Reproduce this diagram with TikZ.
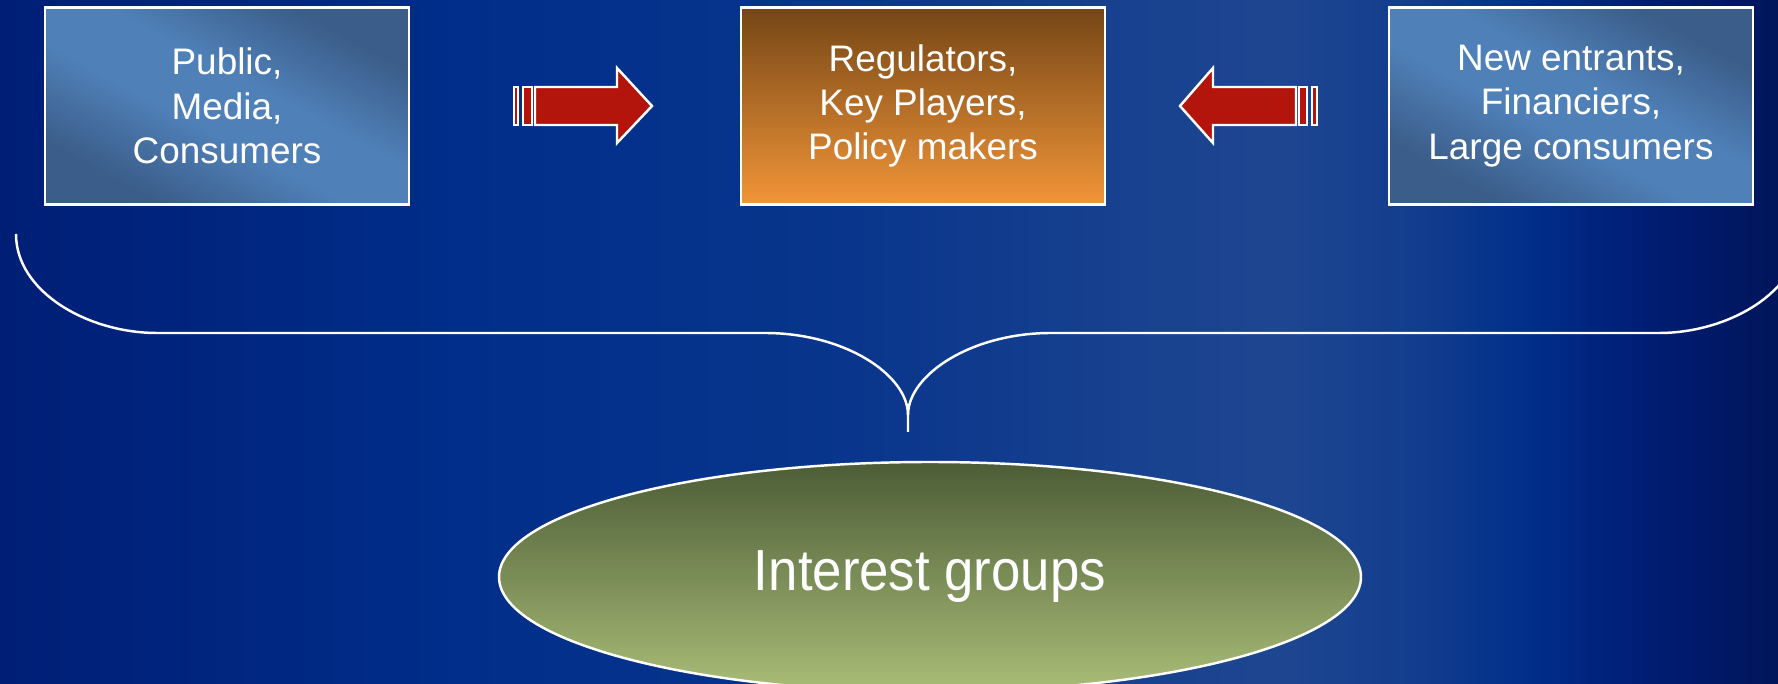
\documentclass[tikz,border=0pt]{standalone}
\usepackage{fontspec}
\setmainfont{Liberation Sans}
\usetikzlibrary{positioning,shapes.geometric}

\definecolor{bgleft}{HTML}{001E76}
\definecolor{bgblue}{HTML}{002E8A}
\definecolor{bgmid}{HTML}{1E4690}
\definecolor{bgright}{HTML}{00155A}
\definecolor{boxlight}{HTML}{4F80B8}
\definecolor{boxdark}{HTML}{3B5D89}
\definecolor{midtop}{HTML}{744616}
\definecolor{midbot}{HTML}{F29538}
\definecolor{ovaltop}{HTML}{4C5C36}
\definecolor{ovalbot}{HTML}{AABE78}
\definecolor{arrowred}{HTML}{B3140B}

% the path box covers 25bp..75bp of a shading
\pgfdeclarehorizontalshading{bgshade}{100bp}{color(0bp)=(bgleft); color(25bp)=(bgleft); color(38bp)=(bgblue); color(49bp)=(bgblue!70!bgmid); color(56bp)=(bgblue!25!bgmid); color(61bp)=(bgmid); color(65bp)=(bgblue!40!bgmid); color(68bp)=(bgblue); color(71bp)=(bgleft); color(75bp)=(bgright); color(100bp)=(bgright)}
\pgfdeclarehorizontalshading{boxshade}{100bp}{color(0bp)=(boxdark); color(27bp)=(boxdark); color(44bp)=(boxlight); color(56bp)=(boxlight); color(73bp)=(boxdark); color(100bp)=(boxdark)}

\tikzset{
  sidebox/.style={draw=white,line width=0.7pt,shading=boxshade,shading angle=62,
    minimum width=36.4mm,minimum height=19.7mm,text=white,align=center,
    font=\fontsize{10.5}{12.6}\selectfont},
  midbox/.style={sidebox,top color=midtop,bottom color=midbot},
  group/.style={ellipse,draw=white,line width=0.7pt,top color=ovaltop,bottom color=ovalbot,
    minimum width=86.2mm,minimum height=23mm,inner sep=0pt,text=white,
    font=\fontsize{16.5}{19}\selectfont},
  redarrow/.style={fill=arrowred,draw=white,line width=0.7pt,line join=miter},
  brace/.style={draw=white,line width=0.7pt}
}

\begin{document}
\begin{tikzpicture}[x=0.1mm,y=-0.1mm]

% background
\clip (0,0) rectangle (1778,684);
\shade[shading=bgshade] (0,0) rectangle (1778,684);

% ---------------- BOXES ----------------
\node[sidebox] (public) at (227,106) {Public,\\ Media,\\ Consumers};
\node[midbox] (regulators) at (923,106) {Regulators,\\ Key Players,\\ Policy makers};
\node[sidebox] (entrants) at (1571,106) {New entrants,\\ Financiers,\\ Large consumers};

% ---------------- LEFT ARROW ----------------
\begin{scope}[shift={(514,87)}]
\draw[redarrow] (0,0) rectangle (4,38);
\draw[redarrow] (9,0) rectangle (18,38);
\draw[redarrow] (21,0) -- (103,0) -- (103,-19) -- (138,19) -- (103,56) -- (103,38) -- (21,38) -- cycle;
\end{scope}

% ---------------- RIGHT ARROW ----------------
\begin{scope}[shift={(1317,87)},xscale=-1]
\draw[redarrow] (0,0) rectangle (5,38);
\draw[redarrow] (10,0) rectangle (18,38);
\draw[redarrow] (21,0) -- (104,0) -- (104,-19) -- (137,19) -- (104,56) -- (104,38) -- (21,38) -- cycle;
\end{scope}

% curly brace under the boxes
\coordinate (tip) at (908,432);
\draw[brace] (16,234) .. controls (16,292) and (88,333) .. (157,333) -- (765,333)
  .. controls (845,333) and (908,375) .. (908,415) -- (tip);
\draw[brace] (908,415) .. controls (908,375) and (971,333) .. (1051,333) -- (1659,333)
  .. controls (1728,333) and (1800,292) .. (1800,234);

% ---------------- INTEREST GROUPS ----------------
\node[group] (groups) at (930,577) {\scalebox{0.91}[1]{Interest groups}};

\end{tikzpicture}
\end{document}
